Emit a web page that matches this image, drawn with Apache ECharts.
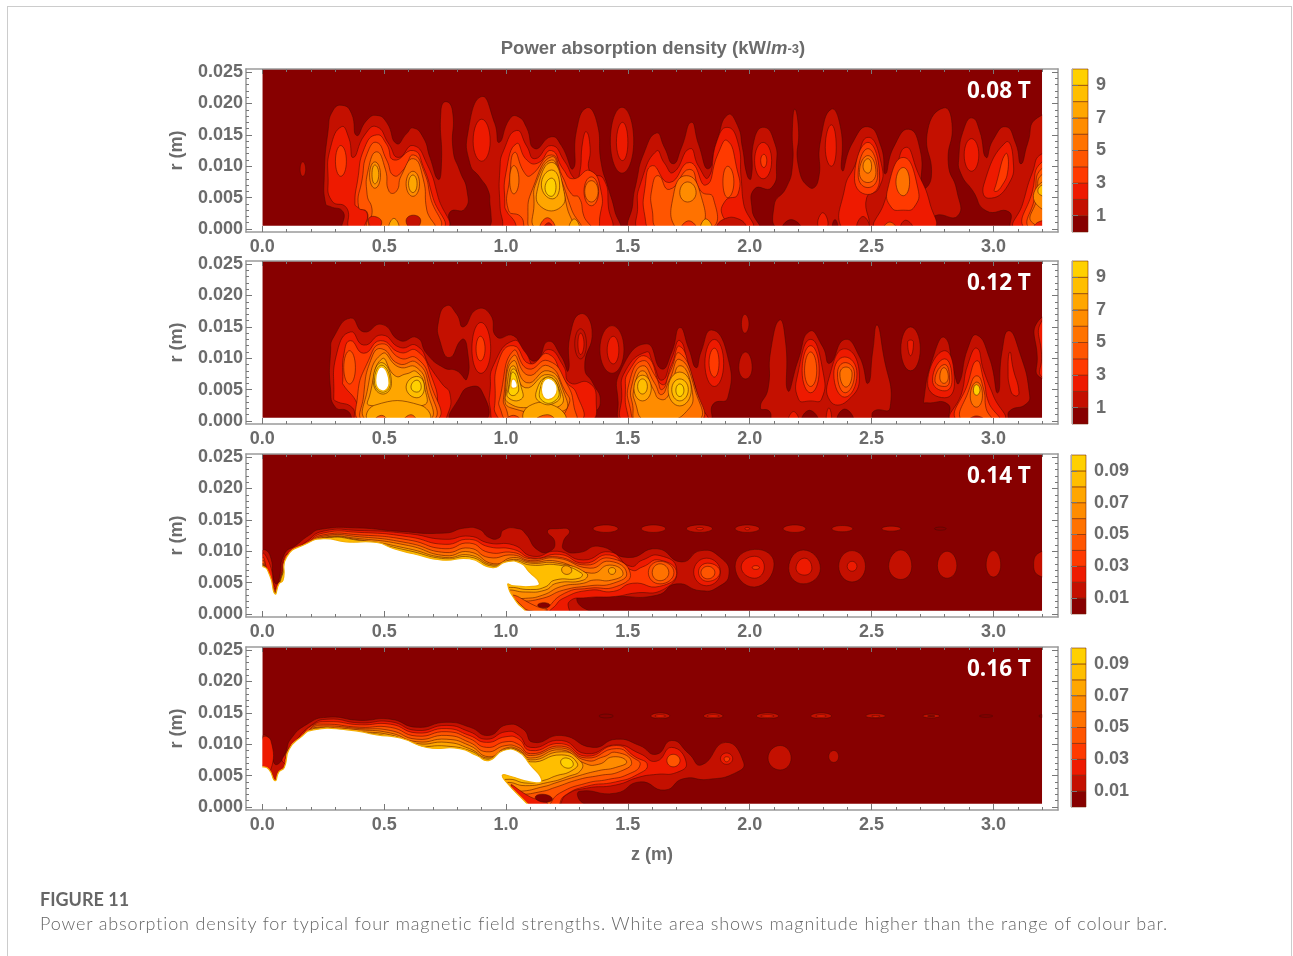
<!DOCTYPE html>
<html>
<head>
<meta charset="utf-8">
<script src="https://cdn.jsdelivr.net/npm/echarts@6/dist/echarts.min.js"></script>
<style>
  html, body { margin: 0; background: #fff; overflow: hidden; }
  #card { position: absolute; left: 7px; top: 6px; width: 1285px; height: 960px; border: 1px solid #ccc; box-sizing: border-box; }
  #chart { position: absolute; left: 0; top: 0; width: 1293px; height: 956px; filter: blur(0.4px); }
  .fig { position: absolute; left: 40px; top: 888px; font: 700 18px Lato, sans-serif; color: #666; }
  .cap { position: absolute; left: 40px; top: 912px; font: 300 18px Lato, sans-serif; color: #666; letter-spacing: 0.84px; white-space: nowrap; }
</style>
</head>
<body>
<div id="card"></div>
<div id="chart"></div>
<div class="fig">FIGURE 11</div>
<div class="cap">Power absorption density for typical four magnetic field strengths. White area shows magnitude higher than the range of colour bar.</div>
<script>
// axis ticks, z in m, r in mm
const zMajor = [0, 0.5, 1, 1.5, 2, 2.5, 3]
const zMinor = [0.1, 0.2, 0.3, 0.4, 0.6, 0.7, 0.8, 0.9, 1.1, 1.2, 1.3, 1.4, 1.6, 1.7, 1.8, 1.9, 2.1, 2.2, 2.3, 2.4, 2.6, 2.7, 2.8, 2.9, 3.1, 3.2]
const rMajor = [0, 5, 10, 15, 20, 25]
const rMinor = [1, 2, 3, 4, 6, 7, 8, 9, 11, 12, 13, 14, 16, 17, 18, 19, 21, 22, 23, 24]

const fieldLabels = ['0.08 T', '0.12 T', '0.14 T', '0.16 T']
const barEdgesHigh = [0, 1, 2, 3, 4, 5, 6, 7, 8, 9, 10]
const barEdgesLow = [0, 0.01, 0.02, 0.03, 0.04, 0.05, 0.06, 0.07, 0.08, 0.09, 0.1]
const barTicksHigh = [1, 3, 5, 7, 9]
const barTicksLow = [0.01, 0.03, 0.05, 0.07, 0.09]

// contour colours, index = lower bound of the band, last one is above range
const levelColors = ['#870000', '#c41000', '#ee1a00', '#ff3a00', '#ff5500', '#ff7200', '#ff8c00', '#ffa600', '#ffbe00', '#ffd000', '#ffffff']

// filled contours: [band, [z, r, z, r, ...]], painted in order
const plotBase = [[0, [0, -1, 3.2, -1, 3.2, 27, 0, 27]]]
const plotMasks = [
  [10, [-0.2, -1, 0, -1, 0, 27, -0.2, 27]],
  [10, [3.2, -1, 3.4, -1, 3.4, 27, 3.2, 27]],
  [10, [-0.2, -1, 3.4, -1, 3.4, 0.5, -0.2, 0.5]],
]

const bands008 = [
  [1, [.155, 9.5, .166, 10.7, .178, 9.5, .166, 8.4]],
  [1, [.26,4, .254,8.2, .27,15.7, .29,18.9, .33,19.7, .366,18.4, .387,14.9, .428,17.3, .469,18.1, .51,17, .551,13.6, .592,15.2, .619,16.1, .66,14.6, .688,11.4, .722,7.9, .735,10.4, .733,18.9, .753,20.3, .78,18.9, .783,12.5, .81,9.3, .84,6.1, .831,3.2, .77,2.7, .759,0, .339,0, .332,2.7, .277,3.6]],
  [2, [.27,8, .28,13, .325,16.3, .355,14.5, .373,11.4, .42,15, .469,16.3, .52,13.5, .558,11.4, .619,13.3, .675,10.4, .722,5, .75,0, .37,0, .345,3.4, .285,4.5]],
  [3, [.3,10.8, .322,13.3, .345,10.8, .322,8.4]],
  [3, [.38,4, .39,7.5, .42,13, .469,15, .51,13.5, .54,11, .62,12.5, .66,10, .70,5, .735,0, .43,0, .43,2.5, .39,3.5]],
  [4, [.395,3.5, .41,8, .43,12, .469,13.8, .51,11, .54,8.5, .58,9.5, .62,11.8, .665,9, .69,5, .72,0, .44,0, .43,2.7]],
  [5, [.43,5.5, .435,9.5, .469,12.3, .505,9.5, .52,6, .55,6, .57,8.5, .62,11.2, .66,8, .675,3, .7,0, .45,0, .45,3.2]],
  [6, [.44,8.6, .462,10.7, .485,8.6, .462,6.5]],
  [6, [.59,7.2, .618,9.2, .645,7.2, .618,5.2]],
  [7, [.45,8.7, .462,10.2, .478,8.7, .462,7.2]],
  [7, [.6,7.2, .618,8.6, .635,7.2, .618,5.8]],
  [2, [.435,1.4, .46,2, .49,1, .46,0]],
  [1, [.59,1.3, .62,2.2, .65,1.3, .62,0]],
  [7, [.52,0, .54,1.7, .56,0]],

  [1, [.845,15.7, .9,21.1, .954,16.8, .972,13.8, 1.016,17.6, 1.05,17.9, 1.084,16.2, 1.118,12.8, 1.186,14.7, 1.227,13.3, 1.275,9.6, 1.289,15.7, 1.33,19.3, 1.371,17.3, 1.391,10.4, 1.419,6.6, 1.446,2.9, 1.456,0, .94,0, .94,1.3, .934,4, .927,6.1, .893,8.2, .852,10.4]],
  [2, [.865,14, .9,17.5, .935,14, .9,10.8]],
  [2, [.975,4, .975,9.5, .99,12.5, 1.043,15.7, 1.085,13.2, 1.118,11.2, 1.186,13.3, 1.24,10.8, 1.282,8, 1.3,8.5, 1.315,14, 1.33,15.5, 1.345,13, 1.345,9, 1.4,8, 1.42,3.5, 1.42,0, 1,0, .985,1.5]],
  [3, [.995,4, 1,9, 1.043,13.6, 1.085,11, 1.13,10.5, 1.186,12.5, 1.235,9.5, 1.275,8, 1.345,9.3, 1.39,6, 1.385,2, 1.365,0, 1.06,0, 1.03,1.5, 1,3]],
  [4, [1.01,3, 1.015,8, 1.035,12.2, 1.075,9, 1.1,8.5, 1.186,11.8, 1.23,8.5, 1.27,5.5, 1.3,5, 1.32,2, 1.345,0, 1.09,0, 1.06,2]],
  [4, [1.32,6, 1.35,8.3, 1.38,6, 1.35,3.7]],
  [5, [1.015,7.8, 1.032,10.1, 1.053,7.8, 1.032,5.6]],
  [5, [1.09,2, 1.11,6.5, 1.186,11.5, 1.225,8, 1.27,3, 1.3,0, 1.11,0]],
  [5, [1.323,6, 1.35,7.7, 1.378,6, 1.35,4.3]],
  [6, [1.115,4, 1.125,7.5, 1.187,11, 1.22,8, 1.25,3.5, 1.265,0, 1.125,0]],
  [7, [1.13,6.5, 1.187,10.6, 1.235,6.5, 1.225,3.5, 1.145,3.5]],
  [8, [1.145,7, 1.187,9.4, 1.22,7, 1.19,4.8]],
  [9, [1.16,6.6, 1.187,8.1, 1.205,6.6, 1.185,5.2]],
  [3, [1.14,0, 1.17,1.8, 1.2,0]],
  [1, [1.155,0, 1.175,1, 1.19,0]],
  [7, [1.26,0, 1.28,1.6, 1.3,0]],

  [1, [1.476,19.4, 1.524,14, 1.476,8.9, 1.428,14]],
  [2, [1.478,17, 1.5,13.8, 1.478,10.9, 1.453,13.8]],

  [1, [1.52,0, 1.52,4, 1.535,7.5, 1.565,12, 1.617,15.3, 1.65,13, 1.686,10.4, 1.72,13, 1.76,17, 1.79,13.5, 1.83,9.6, 1.865,14, 1.91,18.2, 1.95,16.5, 1.97,13, 1.99,8.5, 2.005,8, 2.02,14.5, 2.06,16.2, 2.1,14, 2.11,10.5, 2.09,6.6, 2.02,6.4, 2.01,3, 2.03,0]],
  [2, [1.555,0, 1.54,3.5, 1.55,7, 1.617,12.4, 1.65,10.5, 1.686,9, 1.754,12.8, 1.79,10, 1.83,8.2, 1.865,14, 1.907,16.2, 1.95,14, 1.965,8, 1.975,4, 2,0]],
  [3, [1.57,2, 1.57,6.5, 1.6,10.1, 1.67,7.4, 1.754,10.6, 1.82,7, 1.87,12, 1.907,14.1, 1.945,10, 1.952,5.6, 1.9,4.5, 1.89,2, 1.95,0, 1.6,0]],
  [4, [1.6,3, 1.6,6.7, 1.625,8.5, 1.67,6.3, 1.754,9.5, 1.8,6, 1.85,5, 1.84,0, 1.63,0]],
  [4, [1.89,7.5, 1.91,10, 1.935,7.5, 1.91,5]],
  [5, [1.69,6, 1.74,8.5, 1.795,6, 1.8,0, 1.7,0]],
  [6, [1.713,5.8, 1.745,7.5, 1.78,5.8, 1.745,4.3]],
  [3, [1.72,0, 1.75,1.3, 1.78,0]],
  [7, [1.8,0, 1.82,1.6, 1.845,0]],
  [1, [1.87,0, 1.89,1.5, 1.96,1.5, 1.98,0]],
  [2, [2.02,10.9, 2.055,13.8, 2.09,10.9, 2.055,8]],
  [3, [2.045,10.9, 2.058,11.9, 2.07,10.9, 2.058,9.8]],

  [1, [2.1,3.7, 2.15,6.6, 2.175,10, 2.175,16, 2.185,19.1, 2.2,16, 2.2,10, 2.246,6.6, 2.28,7.6, 2.29,14, 2.335,19.1, 2.375,15.7, 2.38,9.3, 2.42,13.6, 2.485,16.3, 2.54,13, 2.556,8.8, 2.59,13, 2.653,15.9, 2.7,12.5, 2.71,6.6, 2.745,8.2, 2.73,15.7, 2.796,19.3, 2.83,16.8, 2.815,10.4, 2.85,6.1, 2.854,2.1, 2.76,2.1, 2.75,0, 2.13,0]],
  [0, [2.135,0, 2.17,1.5, 2.21,0]],
  [0, [2.34,.3, 2.35,1.5, 2.36,.3]],
  [2, [2.335,16.6, 2.355,13, 2.335,10, 2.31,13]],
  [2, [2.39,6.5, 2.43,10, 2.485,14.6, 2.54,10.4, 2.53,6.5, 2.48,5, 2.48,0, 2.38,0]],
  [2, [2.28,.5, 2.3,2.6, 2.32,.5]],
  [3, [2.43,8, 2.485,13.8, 2.533,8, 2.485,5.5]],
  [4, [2.445,8.6, 2.485,12.8, 2.525,8.6, 2.485,6.6]],
  [5, [2.45,9, 2.485,11.7, 2.518,9, 2.485,7.4]],
  [6, [2.465,10, 2.485,11.2, 2.5,10, 2.485,8.9]],
  [1, [2.44,0, 2.465,2, 2.49,0]],
  [2, [2.52,0, 2.55,4, 2.59,8, 2.64,13, 2.69,9, 2.74,4, 2.75,0]],
  [3, [2.567,6.5, 2.63,11.4, 2.69,6.5, 2.675,3.5, 2.63,3, 2.58,3.5]],
  [5, [2.6,7.5, 2.63,9.8, 2.656,7.5, 2.63,5.3]],
  [4, [2.55,0, 2.575,1.1, 2.6,0]],
  [1, [2.62,0, 2.64,1.4, 2.67,0]],

  [1, [2.858,11.4, 2.881,16.2, 2.913,17.7, 2.943,15.7, 2.97,11.4, 2.997,14.1, 3.05,16.3, 3.092,13.6, 3.113,10.4, 3.14,13.6, 3.18,17.7, 3.3,17.7, 3.3,0, 3.08,0, 3.065,2.7, 2.97,2.9, 2.915,6.1, 2.867,8.8]],
  [2, [2.88,11.8, 2.91,14.4, 2.94,11.8, 2.91,9.2]],
  [2, [2.96,7, 3.05,13.8, 3.08,11.5, 3.06,7, 2.98,4.9]],
  [3, [3.01,7, 3.05,12, 3.06,9.5, 3.03,6.6, 3.005,6]],
  [2, [3.09,0, 3.12,4, 3.16,9, 3.2,12, 3.3,12, 3.3,0]],
  [3, [3.13,0, 3.16,6, 3.2,10.7, 3.3,10.7, 3.3,0]],
  [4, [3.15,0, 3.17,5, 3.2,9.7, 3.3,9.7, 3.3,0]],
  [5, [3.16,1, 3.18,5, 3.2,8.7, 3.3,8.7, 3.3,1]],
  [6, [3.175,4, 3.2,7.5, 3.3,7.5, 3.3,3]],
  [8, [3.19,5.5, 3.2,7, 3.3,7, 3.3,4.5]],
  [2, [3.17,0, 3.19,1.2, 3.3,1.5, 3.3,0]],
]

const bands012 = [
  [1, [.28,5, .28,11, .293,13.4, .362,16.4, .416,14.2, .491,15.4, .566,12.8, .634,13.3, .675,10.7, .744,8.5, .798,8, .839,6.7, .839,12, .819,13, .768,10.1, .73,12.6, .723,15.9, .757,18.4, .798,17, .825,15, .88,17.8, .935,17, .962,13.4, 1.03,13.6, 1.071,11.2, 1.125,9.6, 1.173,12.7, 1.228,10.2, 1.255,8, 1.262,13.5, 1.306,17.1, 1.353,14.5, 1.323,8.5, 1.357,6, 1.387,3.2, 1.357,1, 1.323,0, .385,0, .35,1.6, .3,2.2]],
  [0, [.775,0, .81,3.8, .85,5.4, .9,4.8, .915,0]],
  [2, [.293,3.7, .307,11, .362,14.2, .416,12.1, .491,13.7, .566,11.7, .634,12, .69,8.5, .738,5.9, .77,4.3, .76,1, .73,0, .39,0, .37,2.1, .3,3.2]],
  [3, [.33,6.3, .335,10.7, .362,12.8, .416,10.8, .485,12.8, .566,10.9, .634,11.2, .695,7, .72,2.1, .7,0, .4,0, .39,2.7, .33,5.9]],
  [4, [.334,8.5, .358,11.2, .382,8.5, .358,5.9]],
  [4, [.39,3.7, .435,9.6, .491,12.3, .566,10, .634,10, .69,6, .71,0, .41,0]],
  [5, [.415,3.8, .45,10.2, .491,11.5, .56,9.1, .634,9.3, .685,5.3, .695,0, .42,0]],
  [6, [.43,4.7, .491,10.7, .56,8.6, .634,8.5, .675,5, .68,0, .435,0]],
  [7, [.44,4, .491,9.9, .545,7.2, .59,7.5, .634,7.8, .668,5, .66,2.5, .44,2.5]],
  [7, [.44,0, .46,2.5, .65,2.5, .68,0]],
  [8, [.455,6.5, .491,9.3, .53,6, .491,4.3]],
  [8, [.59,5.4, .634,7.1, .665,5.4, .634,3.7]],
  [9, [.46,6.4, .491,8.9, .525,6, .491,4.6]],
  [9, [.61,5.4, .634,6.5, .652,5.4, .634,4.6]],
  [10, [.465,6.5, .491,8.6, .52,6, .491,4.8]],
  [4, [.46,0, .49,.9, .51,0]],
  [4, [.58,0, .61,1, .63,0]],

  [2, [.86,11.5, .897,15.7, .937,11.5, .897,7.6]],
  [3, [.877,11.5, .895,13.5, .914,11.5, .895,9.6]],
  [1, [1.282,12.3, 1.306,14.7, 1.33,12.3, 1.306,9.9]],
  [2, [1.295,12.3, 1.306,14, 1.32,12.3, 1.306,10.6]],
  [1, [1.385,11.4, 1.435,15.2, 1.484,11.4, 1.435,7.6]],
  [2, [1.415,11.3, 1.44,13.5, 1.463,11.3, 1.44,9.1]],

  [2, [.935,5, .95,9, 1.03,12.8, 1.08,10.9, 1.118,8.8, 1.173,11.4, 1.235,8.8, 1.262,6.1, 1.34,6.1, 1.37,3.2, 1.34,0, .96,0, .935,2.1]],
  [3, [.955,3.2, .97,9.6, 1.03,12, 1.098,9.1, 1.173,10.7, 1.242,6.4, 1.29,4.3, 1.3,0, 1,0, .96,1]],
  [4, [.975,3.7, 1.03,11.2, 1.09,8.3, 1.173,9.6, 1.25,5.9, 1.28,2.1, 1.28,0, 1.015,0, .975,2.1]],
  [5, [.99,3.7, 1.03,10.4, 1.09,7.3, 1.173,8.8, 1.242,4.8, 1.258,2.7, 1.19,0, 1.03,0, 1,2]],
  [6, [.997,4.3, 1.03,9.6, 1.085,6.1, 1.173,8, 1.235,4.8, 1.235,1.6, 1.02,2.1]],
  [7, [1.003,5.1, 1.03,8.8, 1.078,5.3, 1.173,7.4, 1.228,4.6, 1.22,2.4, 1.125,2.1, 1.01,2.9]],
  [7, [1.08,0, 1.095,2.4, 1.2,2.4, 1.24,0]],
  [8, [1.01,5.3, 1.03,8.3, 1.063,5.3, 1.063,3.5, 1.01,3.7]],
  [8, [1.125,4.8, 1.173,7, 1.22,4.8, 1.205,3, 1.14,3]],
  [9, [1.015,5.8, 1.028,7.8, 1.05,5.8, 1.043,4.3, 1.015,4.3]],
  [9, [1.14,5.1, 1.173,7, 1.215,5.1, 1.2,3.2, 1.15,3.2]],
  [10, [1.02,5.6, 1.03,6.7, 1.046,5.6, 1.03,5.2]],
  [10, [1.145,5, 1.173,6.8, 1.21,5, 1.173,3.4]],
  [3, [1.0,0, 1.03,.9, 1.06,0]],
  [4, [1.12,0, 1.17,1, 1.2,0]],

  [1, [1.48,0, 1.46,3, 1.47,8, 1.576,12.3, 1.638,8.3, 1.68,11, 1.713,14.9, 1.75,11.5, 1.78,8.5, 1.8,11, 1.843,14.5, 1.905,11, 1.91,3.7, 1.85,2.7, 1.83,0]],
  [2, [1.49,0, 1.475,4, 1.49,8, 1.576,11, 1.6,9.5, 1.64,6.5, 1.68,10, 1.713,12.8, 1.75,8.5, 1.8,2.5, 1.82,0]],
  [3, [1.5,1, 1.49,5, 1.505,8, 1.576,10.3, 1.64,5.8, 1.68,9, 1.713,11.9, 1.76,7.5, 1.8,1.5, 1.81,0, 1.52,0]],
  [4, [1.51,2, 1.505,6, 1.56,9.6, 1.615,7, 1.64,5, 1.675,8, 1.713,10.8, 1.78,5, 1.795,0, 1.54,0]],
  [5, [1.52,2.5, 1.515,5.5, 1.56,8.8, 1.61,6, 1.638,4.2, 1.67,6.5, 1.713,9.8, 1.775,5, 1.785,0, 1.54,0]],
  [6, [1.53,3, 1.525,5, 1.56,8, 1.605,5, 1.63,3.5, 1.665,4, 1.713,8.8, 1.765,4.5, 1.74,1.5, 1.66,0, 1.57,0]],
  [7, [1.525,5.2, 1.56,7.3, 1.596,5.2, 1.56,3.2]],
  [7, [1.665,5, 1.713,7.8, 1.76,5, 1.713,2.4]],
  [8, [1.54,5.5, 1.56,6.7, 1.58,5.5, 1.56,4.3]],
  [8, [1.68,5, 1.713,6.7, 1.748,5, 1.713,3.2]],
  [9, [1.697,4.9, 1.713,5.9, 1.73,4.9, 1.713,3.9]],
  [2, [1.816,9.2, 1.855,13, 1.893,9.2, 1.855,5.5]],
  [3, [1.833,9.3, 1.855,11.6, 1.874,9.3, 1.855,7]],
  [1, [1.966,15.5, 1.98,17, 1.997,15.5, 1.98,14]],
  [1, [1.955,8.5, 1.983,11, 2.01,8.5, 1.983,6.7]],

  [1, [2.044,2.1, 2.075,5.1, 2.086,11.2, 2.123,16.1, 2.148,12.3, 2.157,4.8, 2.198,9.6, 2.246,14.3, 2.3,11.8, 2.328,9.2, 2.39,13, 2.451,10.2, 2.485,6, 2.505,11.2, 2.522,15.3, 2.546,11.2, 2.576,2.1, 2.51,1.6, 2.49,0, 2.1,0, 2.08,1.6]],
  [2, [2.2,8, 2.25,13, 2.3,8, 2.295,3.5, 2.25,3.2, 2.2,3.5]],
  [3, [2.215,8, 2.25,12, 2.285,8, 2.25,4.5]],
  [4, [2.225,8, 2.25,11, 2.275,8, 2.25,5.5]],
  [2, [2.33,7.5, 2.39,11.5, 2.45,7.5, 2.4,3.2, 2.33,3.2]],
  [3, [2.345,7.5, 2.39,10.2, 2.44,7.5, 2.39,3.8]],
  [4, [2.36,7.5, 2.392,9.3, 2.43,7.5, 2.392,4.5]],
  [5, [2.37,7.5, 2.395,8.6, 2.42,7.5, 2.395,5.4]],
  [0, [2.215,0, 2.245,1.7, 2.28,0]],
  [0, [2.36,0, 2.39,1.9, 2.425,0]],
  [2, [2.16,0, 2.18,1.5, 2.2,0]],
  [2, [2.315,0, 2.325,2.1, 2.335,0]],
  [1, [2.62,11.5, 2.66,15, 2.70,11.5, 2.66,8]],
  [2, [2.648,12.5, 2.66,12.9, 2.672,12.5, 2.66,10.4]],

  [1, [2.713,3, 2.751,10, 2.8,13.3, 2.84,7.5, 2.858,6, 2.895,11.6, 2.932,13.7, 2.984,10, 3.018,4.5, 3.035,11, 3.063,14.4, 3.107,11, 3.148,4.3, 3.134,2.7, 3.066,1.6, 3.052,0, 2.83,0, 2.813,2.7, 2.724,2.9]],
  [2, [2.73,6, 2.8,11.2, 2.84,6, 2.8,3.7]],
  [3, [2.75,6.5, 2.8,9.9, 2.83,6.5, 2.8,4.8]],
  [4, [2.76,6.5, 2.8,9, 2.82,6.5, 2.8,5.5]],
  [5, [2.78,7, 2.797,8.5, 2.815,7, 2.797,6]],
  [2, [2.83,0, 2.87,4.5, 2.895,9, 2.932,11.6, 2.96,8, 3,4, 3.04,0]],
  [3, [2.85,0, 2.895,6, 2.932,9.6, 2.96,6.5, 2.98,3, 3.02,0]],
  [4, [2.87,0, 2.9,5, 2.932,7.2, 2.96,5, 2.97,2, 2.99,0]],
  [5, [2.905,4, 2.932,6.2, 2.955,4, 2.93,2.2]],
  [9, [2.918,4.9, 2.93,5.8, 2.945,4.9, 2.93,4.1]],
  [1, [2.9,0, 2.93,.8, 2.965,0]],
  [2, [3.06,8.5, 3.068,11, 3.08,8.5, 3.105,4.5, 3.09,4, 3.07,5]],
  [1, [3.18,10, 3.185,16, 3.3,16, 3.3,7, 3.19,7]],
  [2, [3.198,10, 3.2,16, 3.3,16, 3.3,7, 3.2,7]],
]

const bands014 = [
  [1, [0,10, .03,9.5, .05,5, .065,5, .09,9.5, .14,11, .19,12.5, .24,13.5, .4,13.7, .55,13.2, .75,12.9, .83,13.7, .89,13.5, .93,12.2, .97,12.1, .99,13.4, 1.05,13.6, 1.08,12.8, 1.13,10.2, 1.18,10, 1.2,11.5, 1.17,13.2, 1.21,13.6, 1.26,13.3, 1.235,11.5, 1.24,10.2, 1.3,9.8, 1.38,10.8, 1.5,9, 1.62,10.4, 1.72,8.3, 1.8,10.1, 1.88,9, 1.915,6.4, 1.87,4.3, 1.8,3.7, 1.7,4.8, 1.62,3, 1.45,2.8, 1.3,2.8, 1.3,1.5, 1.36,0, 0,0]],
  [2, [0,9.5, .03,8, .055,4, .075,5, .09,9, .13,10, .18,11.5, .25,13.2, .4,13.3, .6,12.8, .75,11.9, .85,12.4, .93,11.3, 1.03,11, 1.11,9.2, 1.21,10, 1.317,8.6, 1.426,9.9, 1.51,7.6, 1.56,8.6, 1.632,9.3, 1.7,7.2, 1.65,4, 1.52,3.3, 1.45,2.8, 1.33,2.6, 1.26,2, 1.25,0, 0,0]],
  [3, [0,9, .05,4, .08,5, .09,8.5, .13,9.7, .18,11.2, .25,12.9, .4,13, .6,12.3, .75,11.1, .85,11.9, .93,10.7, 1.03,10.3, 1.11,8.9, 1.22,9.5, 1.32,8.1, 1.426,9.4, 1.515,7, 1.56,7.5, 1.63,8.6, 1.7,6.5, 1.63,4.4, 1.52,4.9, 1.44,3.6, 1.344,3.8, 1.235,2.5, 1.19,.9, 1.15,0, 0,0]],
  [4, [0,8.5, .05,3.8, .08,5, .1,8.5, .18,11, .25,12.6, .4,12.6, .6,11.8, .75,10.4, .85,11.3, .93,9.8, 1.03,9.8, 1.1,8.8, 1.21,9.1, 1.33,7.8, 1.426,8.9, 1.51,6.5, 1.454,4.4, 1.34,4.1, 1.24,3.3, 1.15,.5, 1.1,0, 0,0]],
  [5, [0,8, .05,3.6, .08,5, .1,8.2, .18,10.7, .25,12.4, .4,12.3, .6,11.3, .75,9.8, .85,10.5, .93,9, 1.03,9.4, 1.1,8.5, 1.21,8.9, 1.344,7.3, 1.426,8.4, 1.495,6.5, 1.44,4.9, 1.344,4.5, 1.235,3.8, 1.15,2.5, 1.05,2, 0,0]],
  [6, [0,7.9, .05,3.5, .1,8, .18,10.5, .25,12.2, .4,12, .6,10.9, .75,9.3, .85,9.9, .95,8, 1.03,9, 1.1,8.3, 1.21,8.4, 1.35,6.5, 1.426,7.8, 1.48,6.5, 1.433,5.4, 1.358,5.4, 1.317,4.9, 1.228,4.4, 1.15,3, 1.08,2.5, 0,0]],
  [7, [0,7.8, .05,3.4, .1,7.7, .18,10.3, .25,12.1, .4,11.8, .6,10.4, .75,9, .85,9.4, .95,7.8, 1.03,8.7, 1.1,8.1, 1.21,8.1, 1.33,6.5, 1.317,5.4, 1.207,4.9, 1.16,3.8, 1.08,3.5, 1,3.8, 0,0]],
  [8, [0,7.7, .05,3.4, .1,7.5, .18,10.2, .25,12, .4,11.7, .6,10.1, .75,8.8, .85,9.1, .95,7.6, 1.03,8.5, 1.1,7.8, 1.215,7.8, 1.31,6.5, 1.3,5.7, 1.2,5.4, 1.16,4.3, 1.1,3.9, 1,4.2, 0,0]],
  [7, [1.228,7, 1.245,7.7, 1.27,7, 1.25,6.3]],
  [4, [1.03,3, 1.12,1.3, 1.17,.6, 1.1,.5, 1.06,1.5]],
  [0, [1.13,1.4, 1.155,1.8, 1.18,1.4, 1.155,1]],
  [7, [1.42,6.9, 1.435,7.4, 1.45,6.9, 1.435,6.3]],
  [4, [1.584,6.6, 1.632,8.4, 1.689,6.6, 1.632,4.8]],
  [5, [1.6,6.6, 1.632,8, 1.668,6.6, 1.632,5.3]],
  [1, [1.74,13.6, 1.795,14.2, 1.847,13.6, 1.795,13]],
  [2, [1.78,13.6, 1.795,13.8, 1.81,13.6, 1.795,13.4]],
  [2, [1.77,6.7, 1.823,8.9, 1.88,6.7, 1.823,4.5]],
  [3, [1.79,6.7, 1.828,8.1, 1.878,6.7, 1.828,5.2]],
  [4, [1.8,6.6, 1.828,7.6, 1.857,6.6, 1.828,5.6]],
  [1, [1.94,7.6, 2.02,10.3, 2.1,8, 2.02,4.3]],
  [2, [1.965,7.5, 2.02,9.2, 2.06,7.5, 2.02,5.7]],
  [3, [2.01,7.4, 2.025,7.7, 2.04,7.4, 2.025,7.1]],
  [1, [2.16,7.3, 2.22,10.2, 2.29,7.3, 2.22,4.8]],
  [2, [2.19,7.3, 2.225,8.9, 2.255,7.3, 2.225,6.2]],
  [1, [2.365,7.6, 2.42,10.1, 2.475,7.6, 2.42,5.1]],
  [2, [2.4,7.6, 2.42,8.4, 2.44,7.6, 2.42,6.8]],
  [1, [2.57,7.6, 2.62,10.2, 2.665,7.6, 2.62,5.5]],
  [1, [2.77,7.7, 2.81,10, 2.85,7.7, 2.81,5.7]],
  [1, [2.97,7.8, 3,10.1, 3.03,7.8, 3,5.9]],
  [1, [3.165,7.8, 3.2,10, 3.3,10, 3.3,6, 3.2,5.9]],
  [1, [1.357,13.6, 1.41,14.2, 1.46,13.6, 1.41,13]],
  [1, [1.555,13.6, 1.605,14.2, 1.655,13.6, 1.605,13]],
  [1, [1.94,13.6, 1.99,14.2, 2.04,13.6, 1.99,13]],
  [2, [1.98,13.6, 1.99,13.8, 2.0,13.6, 1.99,13.4]],
  [1, [2.137,13.6, 2.185,14.2, 2.23,13.6, 2.185,13]],
  [1, [2.337,13.6, 2.38,14.1, 2.423,13.6, 2.38,13.1]],
  [1, [2.542,13.6, 2.58,14, 2.62,13.6, 2.58,13.2]],
  [0, [2.758,13.6, 2.782,13.85, 2.806,13.6, 2.782,13.35]],
  [10, [-.1,0, -.1,7.6, 0,7.6, .03,6.2, .052,3.2, .068,4.8, .085,5.4, .1,9.1, .18,11.2, .25,12, .345,11.5, .47,11.4, .54,10.4, .62,9.6, .74,8.6, .85,8.8, .946,7.4, 1,8.3, 1.06,8.1, 1.095,6.7, 1.137,4.9, 1.11,4.4, 1.03,4.5, 1.007,4.7, 1.04,2.1, 1.08,.5, 1.09,0]],
]

const bands016 = [
  [1, [0,11.2, .03,10.8, .048,7, .07,7, .095,8.7, .116,10.8, .184,13.2, .266,14.3, .402,13.8, .525,14, .634,12.7, .757,13.5, .853,12.7, .928,11.4, 1.003,13.1, 1.07,12.4, 1.112,10.3, 1.228,11.4, 1.357,9.5, 1.453,10.8, 1.548,9.8, 1.617,8.4, 1.68,10.6, 1.75,8.5, 1.802,6.7, 1.9,10.3, 1.975,7.1, 1.945,5.5, 1.83,4.4, 1.727,4.5, 1.652,2.7, 1.55,4, 1.45,2.2, 1.303,2.5, 1.3,1.2, 1.337,0, 0,0]],
  [2, [0,11, .035,10.6, .035,6, 0,6.4]],
  [2, [.09,7, .1,8.8, .13,10.2, .2,13, .27,14, .4,13.4, .525,13.6, .634,12.2, .757,13, .85,12, .92,10.8, 1,12, 1.05,11.5, 1.1,9.5, 1.228,10.6, 1.33,8.5, 1.453,9.9, 1.55,8.5, 1.617,7.3, 1.68,9.5, 1.74,7, 1.7,5.5, 1.617,5.2, 1.55,4.8, 1.45,3.5, 1.33,3, 1.25,2, 1.2,0, .5,0]],
  [3, [.1,7, .115,8.8, .15,10.5, .2,12.9, .27,13.6, .4,13.1, .525,13.2, .634,11.8, .757,12.5, .85,11.4, .92,10.3, 1,11.2, 1.05,10.9, 1.1,9, 1.228,10.1, 1.33,8.1, 1.453,9.8, 1.53,8, 1.58,6.7, 1.54,5.2, 1.45,4, 1.33,3.3, 1.24,1.8, 1.2,0, .5,0]],
  [4, [.11,7, .2,12.6, .25,13.2, .4,12.7, .525,12.7, .634,11.3, .757,12, .85,10.9, .92,9.5, 1,10.4, 1.05,10, 1.1,8.5, 1.228,9.7, 1.33,7.8, 1.453,9.3, 1.52,7.9, 1.55,6.7, 1.5,5.2, 1.42,4.4, 1.33,3.8, 1.22,2.2, 1.15,0, .5,0]],
  [5, [.12,7, .2,12.4, .25,12.9, .4,12.5, .525,12.2, .634,10.8, .757,11.4, .85,10.3, .92,8.8, 1,9.8, 1.05,9.5, 1.1,8.2, 1.228,9.4, 1.33,7.4, 1.4,8, 1.453,8.7, 1.515,7.2, 1.47,5.7, 1.38,5, 1.3,4.4, 1.2,3.1, 1.15,2.5, 1.05,2, .5,2]],
  [6, [.13,7, .2,12.2, .25,12.6, .4,12.3, .525,11.8, .634,10.4, .757,10.8, .85,9.8, .93,8, 1,9.4, 1.05,9.2, 1.1,7.8, 1.228,9.1, 1.32,7, 1.38,6.8, 1.44,8, 1.495,7.2, 1.45,6.3, 1.38,5.8, 1.3,5, 1.2,3.8, 1.16,3.3, 1.05,2.5, .5,2]],
  [7, [.14,7, .2,12.1, .25,12.4, .4,12, .525,11.5, .634,10.1, .757,10.3, .85,9.3, .93,7.8, 1,9.2, 1.05,9, 1.1,7.5, 1.228,8.8, 1.3,7.5, 1.31,6, 1.25,4.8, 1.17,3.9, 1.08,3.4, 1,3.9, .5,2]],
  [8, [.15,7, .2,12, .4,11.8, .525,11.2, .634,9.8, .757,9.7, .85,9, .93,7.6, 1,9.1, 1.05,8.9, 1.1,7.2, 1.228,8.3, 1.292,7, 1.27,5.8, 1.2,4.9, 1.16,4.3, 1.09,3.8, 1,4.4, .5,2]],
  [9, [1.224,7.2, 1.25,7.8, 1.276,6.8, 1.25,6.2]],
  [4, [1.66,7.4, 1.686,8.4, 1.714,7.4, 1.686,6.4]],
  [2, [1.02,3.5, 1.1,1.6, 1.17,.6, 1.1,0]],
  [0, [1.12,1.6, 1.16,2, 1.19,1.2, 1.15,.8]],
  [2, [1.88,7.7, 1.905,8.6, 1.93,7.7, 1.905,6.8]],
  [3, [1.895,7.7, 1.905,8, 1.918,7.7, 1.905,7.2]],
  [1, [2.075,7.8, 2.125,9.8, 2.17,7.8, 2.125,5.9]],
  [1, [2.324,8, 2.345,9, 2.365,8, 2.345,7.1]],
  [0, [1.382,14.5, 1.41,14.8, 1.44,14.5, 1.41,14.2]],
  [1, [1.594,14.5, 1.633,15, 1.672,14.5, 1.633,14.1]],
  [2, [1.61,14.5, 1.633,14.7, 1.655,14.5, 1.633,14.3]],
  [1, [1.81,14.5, 1.85,15, 1.89,14.5, 1.85,14.1]],
  [2, [1.825,14.5, 1.85,14.7, 1.875,14.5, 1.85,14.3]],
  [1, [2.027,14.5, 2.073,15, 2.119,14.5, 2.073,14.1]],
  [2, [2.045,14.5, 2.073,14.7, 2.1,14.5, 2.073,14.3]],
  [1, [2.25,14.5, 2.293,15, 2.336,14.5, 2.293,14.1]],
  [2, [2.27,14.5, 2.293,14.7, 2.315,14.5, 2.293,14.3]],
  [1, [2.476,14.5, 2.516,14.9, 2.557,14.5, 2.516,14.2]],
  [2, [2.5,14.5, 2.516,14.6, 2.535,14.5, 2.516,14.3]],
  [1, [2.71,14.5, 2.745,14.8, 2.78,14.5, 2.745,14.2]],
  [0, [2.73,14.5, 2.745,14.6, 2.76,14.5, 2.745,14.4]],
  [0, [2.943,14.5, 2.97,14.7, 2.997,14.5, 2.97,14.3]],
  [0, [3.186,14.5, 3.2,14.7, 3.3,14.7, 3.3,14.3, 3.2,14.3]],
  [10, [-.1,0, -.1,6.4, 0,6.4, .027,6, .052,4.2, .068,5.6, .09,6.3, .11,9.2, .157,11.1, .21,12.3, .348,12.3, .47,11.5, .566,11, .675,9.5, .81,9.3, .88,8.2, .928,7.4, .989,9, 1.05,8.8, 1.098,6.8, 1.146,4.2, 1.098,4, 1.016,4.9, .986,5.1, .996,4.2, 1.09,.4, 1.1,0]],
]

const panelBands = [bands008, bands012, bands014, bands016]

const axisFont = { color: '#6b6b6b', fontFamily: 'Liberation Sans, Arial', fontWeight: 'bold', fontSize: 18 }
const frameTops = [69, 261, 454, 647]
const frameHeight = 163
const chart = echarts.init(document.getElementById('chart'), null, { renderer: 'canvas' })

// polygons go through the axis scales of their grid
function polygonSeries(list, axisIndex, smooth) {
  return {
    type: 'custom',
    xAxisIndex: axisIndex,
    yAxisIndex: axisIndex,
    clip: true,
    silent: true,
    animation: false,
    data: list.map((_, i) => [i]),
    renderItem: (params, api) => {
      const [level, flat] = list[params.dataIndex]
      const points = []
      for (let i = 0; i < flat.length; i += 2) points.push(api.coord([flat[i], flat[i + 1]]))
      const isOver = level === 10
      return {
        type: 'polygon',
        shape: { points, smooth },
        style: {
          fill: levelColors[level],
          stroke: smooth ? (isOver ? '#f5ae00' : 'rgba(70,10,0,0.65)') : null,
          lineWidth: isOver ? 1.2 : 0.8,
        },
      }
    },
  }
}

const grid = [], xAxis = [], yAxis = [], series = []

function lineOf(show) {
  return { show, onZero: false, lineStyle: { color: '#9a9a9a', width: 1.5 } }
}

panelBands.forEach((bands, p) => {
  grid.push({ left: 246, top: frameTops[p], width: 812, height: frameHeight })
  const g = grid.length - 1
  const first = xAxis.length
  const xCommon = { gridIndex: g, type: 'value', min: -0.067, max: 3.265, splitLine: { show: false }, z: 10 }
  const yCommon = { gridIndex: g, type: 'value', min: -0.48, max: 25.5, splitLine: { show: false }, z: 10 }
  const tick = (values, length) => ({ show: true, inside: true, length, customValues: values, lineStyle: { color: '#777', width: 1 } })
  xAxis.push(
    {
      ...xCommon, position: 'bottom', axisLine: lineOf(true), axisTick: tick(zMajor, 6),
      axisLabel: { ...axisFont, margin: 6, customValues: zMajor, formatter: (v) => v.toFixed(1) },
      name: p === 3 ? 'z (m)' : '', nameLocation: 'middle', nameGap: 36,
      nameTextStyle: { ...axisFont },
    },
    { ...xCommon, position: 'bottom', axisLine: lineOf(false), axisTick: tick(zMinor, 3), axisLabel: { show: false } },
    { ...xCommon, position: 'top', axisLine: lineOf(true), axisTick: tick(zMajor, 5), axisLabel: { show: false } },
    { ...xCommon, position: 'top', axisLine: lineOf(false), axisTick: tick(zMinor, 3), axisLabel: { show: false } },
  )
  yAxis.push(
    {
      ...yCommon, position: 'left', axisLine: lineOf(true), axisTick: tick(rMajor, 6),
      axisLabel: { ...axisFont, margin: 3, customValues: rMajor, formatter: (v) => (v / 1000).toFixed(3) },
      name: 'r (m)', nameLocation: 'middle', nameGap: 60, nameTextStyle: { ...axisFont },
    },
    { ...yCommon, position: 'left', axisLine: lineOf(false), axisTick: tick(rMinor, 3), axisLabel: { show: false } },
    { ...yCommon, position: 'right', axisLine: lineOf(true), axisTick: tick(rMajor, 6), axisLabel: { show: false } },
    { ...yCommon, position: 'right', axisLine: lineOf(false), axisTick: tick(rMinor, 3), axisLabel: { show: false } },
  )
  series.push(polygonSeries(plotBase, first, 0), polygonSeries(bands, first, 0.55), polygonSeries(plotMasks, first, 0))
})

// colour bars
panelBands.forEach((_, p) => {
  const high = p < 2
  const edges = high ? barEdgesHigh : barEdgesLow
  grid.push({
    left: high ? 1072 : 1071, width: high ? 16 : 15,
    top: frameTops[p] + (high ? 0 : 1), height: high ? frameHeight : 159,
  })
  const g = grid.length - 1
  xAxis.push({ gridIndex: g, type: 'value', min: 0, max: 1, show: false })
  yAxis.push({
    gridIndex: g, type: 'value', position: 'right', min: edges[0], max: edges[10], splitLine: { show: false }, z: 10,
    axisLine: { show: true, lineStyle: { color: '#a8a8a8', width: 1 } },
    axisTick: { show: true, length: 6, customValues: high ? barTicksHigh : barTicksLow, lineStyle: { color: '#777' } },
    axisLabel: {
      ...axisFont, margin: 8, customValues: high ? barTicksHigh : barTicksLow,
      formatter: (v) => (high ? String(v) : v.toFixed(2)),
    },
  })
  series.push({
    type: 'custom',
    xAxisIndex: xAxis.length - 1,
    yAxisIndex: yAxis.length - 1,
    silent: true,
    animation: false,
    data: edges.slice(0, 10).map((v, i) => [i, v]),
    renderItem: (params, api) => {
      const i = params.dataIndex
      const a = api.coord([0, edges[i]])
      const b = api.coord([1, edges[i + 1]])
      return {
        type: 'rect',
        shape: { x: a[0], y: b[1], width: b[0] - a[0], height: a[1] - b[1] },
        style: { fill: levelColors[i], stroke: 'rgba(110,30,0,0.55)', lineWidth: 1 },
      }
    },
  })
})

const titles = [{
  left: 648, top: 32, textAlign: 'center',
  text: '{b|Power absorption density (kW/}{i|m}{s|-3}{b|)}',
  textStyle: {
    rich: {
      b: { ...axisFont, fontSize: 18.5, height: 24 },
      i: { ...axisFont, fontSize: 18.5, fontStyle: 'italic', height: 24 },
      s: { ...axisFont, fontSize: 13, verticalAlign: 'top', height: 24, lineHeight: 14 },
    },
  },
}]
fieldLabels.forEach((text, p) => {
  titles.push({
    left: 962, top: frameTops[p] + 6, text,
    textStyle: { color: '#fff', fontFamily: 'Open Sans', fontWeight: 'bold', fontSize: 22.5 },
  })
})

chart.setOption({ animation: false, backgroundColor: 'transparent', title: titles, grid, xAxis, yAxis, series })
</script>
</body>
</html>
